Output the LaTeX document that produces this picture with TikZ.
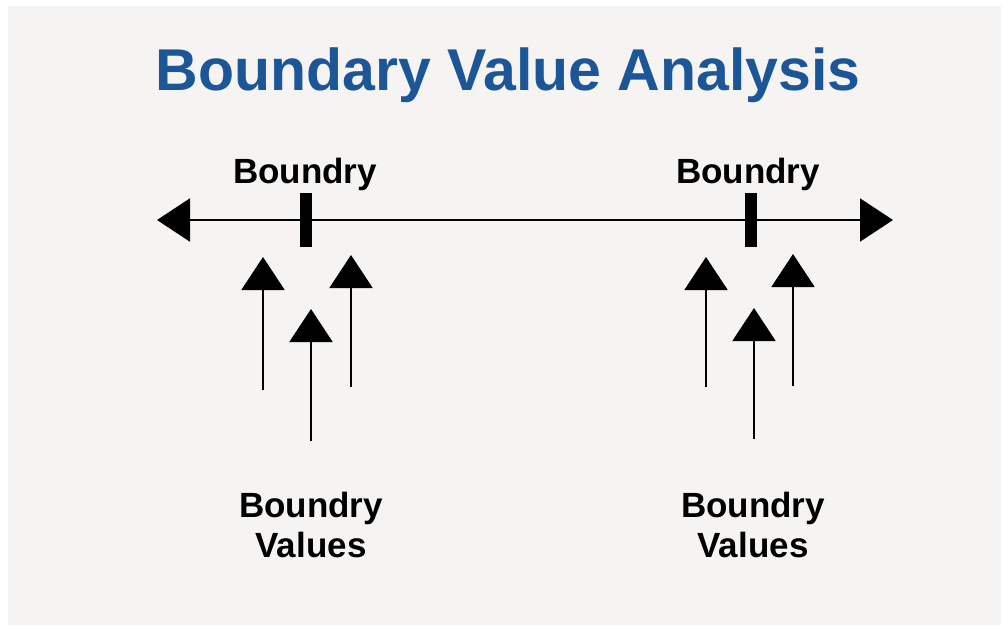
\documentclass[tikz,border=0pt]{standalone}
\usepackage{fontspec}
\setmainfont{Liberation Sans}
\usetikzlibrary{arrows.meta}
\definecolor{bgcol}{RGB}{245,244,243}
\definecolor{titleblue}{RGB}{28,86,150}

\begin{document}
\begin{tikzpicture}[x=1pt,y=-1pt,>={Triangle[length=33pt,width=43pt]}]
\tikzstyle{axis}=[draw,line width=2pt,<->]
\tikzstyle{upar}=[draw,line width=2pt,->]
\tikzstyle{tick}=[fill=black,minimum width=12pt,minimum height=54pt,inner sep=0pt]
\tikzstyle{bndtext}=[font=\bfseries\fontsize{35}{40}\selectfont,align=center,inner sep=0pt]
\tikzstyle{heading}=[font=\bfseries\fontsize{59}{60}\selectfont,inner sep=0pt,anchor=base]

\useasboundingbox (0,0) rectangle (1003,625);
\fill[white] (0,0) rectangle (1003,625);
\fill[bgcol] (8,6) rectangle (1001,625);

\node[heading,text=titleblue] (title) at (508,90) {Boundary Value Analysis};

% number line
\coordinate (lend) at (157,220);
\coordinate (rend) at (893,220);
\path (lend) edge[axis] (rend);

\node[tick] (b1) at (306,220) {};
\node[tick] (b2) at (751,220) {};
\node[bndtext,anchor=base] (l1) at (305,183) {Boundry};
\node[bndtext,anchor=base] (l2) at (748,183) {Boundry};

% arrows to the boundary values
\foreach \x/\t/\b [count=\i] in {263/257/390, 311/309/441, 351/255/387, 706/257/387, 754/308/439, 793/254/386} {
  \coordinate (f\i) at (\x,\b);
  \coordinate (t\i) at (\x,\t);
  \path (f\i) edge[upar] (t\i);
}

\node[bndtext,anchor=base] (v1) at (311,557) {Boundry\\Values};
\node[bndtext,anchor=base] (v2) at (753,557) {Boundry\\Values};

\end{tikzpicture}
\end{document}
